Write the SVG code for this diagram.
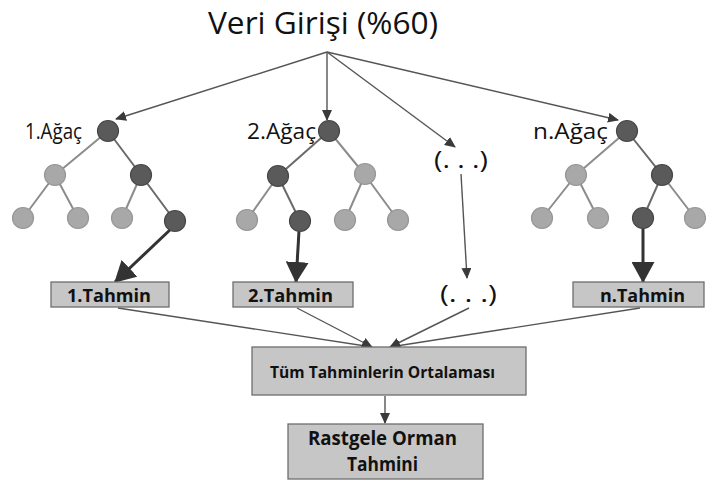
<svg xmlns="http://www.w3.org/2000/svg" width="706" height="481" viewBox="0 0 706 481">
<style>
.t{font-family:"Open Sans","Noto Sans","DejaVu Sans",sans-serif;fill:#111}
.b{font-weight:bold}
.dk{fill:#5a5a5a;stroke:#474747;stroke-width:1.2}
.lt{fill:#a8a8a8;stroke:#969696;stroke-width:1.2}
.e{stroke:#8c8c8c;stroke-width:2;fill:none}
.ed{stroke:#6a6a6a;stroke-width:2;fill:none}
.box{fill:#c6c6c6;stroke:#6e6e6e;stroke-width:1.3}
.c{stroke:#555;stroke-width:1.4;fill:none}
.k{stroke:#333;stroke-width:3;fill:none}
</style>
<defs>
<marker id="a" markerUnits="userSpaceOnUse" markerWidth="11" markerHeight="10" refX="10" refY="5" orient="auto"><path d="M0,0 L11,5 L0,10 z" fill="#3a3a3a"/></marker>
<marker id="big" markerUnits="userSpaceOnUse" markerWidth="21" markerHeight="23" refX="20" refY="11.5" orient="auto"><path d="M0,0 L21,11.5 L0,23 z" fill="#333"/></marker>
</defs>
<rect width="706" height="481" fill="#fff"/>
<text class="t" x="208" y="34" font-size="31" textLength="230" lengthAdjust="spacingAndGlyphs">Veri Girişi (%60)</text>
<g id="connectors">
<line class="c" x1="327" y1="52" x2="116" y2="119" marker-end="url(#a)"/>
<line class="c" x1="327" y1="52" x2="327" y2="120" marker-end="url(#a)"/>
<line class="c" x1="327" y1="52" x2="455" y2="147" marker-end="url(#a)"/>
<line class="c" x1="327" y1="52" x2="618" y2="120" marker-end="url(#a)"/>
<line class="c" x1="461" y1="174" x2="467" y2="278" marker-end="url(#a)"/>
<line class="k" x1="172" y1="228" x2="115" y2="282" marker-end="url(#big)"/>
<line class="k" x1="299" y1="231" x2="296" y2="282" marker-end="url(#big)"/>
<line class="k" x1="643" y1="228" x2="643" y2="282" marker-end="url(#big)"/>
<line class="c" x1="118" y1="308" x2="372" y2="347" marker-end="url(#a)"/>
<line class="c" x1="297" y1="308" x2="372" y2="347" marker-end="url(#a)"/>
<line class="c" x1="469" y1="308" x2="390" y2="347" marker-end="url(#a)"/>
<line class="c" x1="640" y1="308" x2="390" y2="347" marker-end="url(#a)"/>
<line class="c" x1="385" y1="396" x2="385" y2="423" marker-end="url(#a)"/>
</g>
<g id="tree1">
<text class="t" x="25" y="139" font-size="21" textLength="57" lengthAdjust="spacingAndGlyphs">1.Ağaç</text>
<path class="e" d="M108,131 L55,175 M55,175 L23,218 M55,175 L78,218 M141,175 L122,218"/>
<path class="ed" d="M108,131 L141,175 L175,221"/>
<circle class="dk" cx="108" cy="131" r="10.5"/>
<circle class="lt" cx="55" cy="175" r="10.5"/>
<circle class="dk" cx="141" cy="175" r="10.5"/>
<circle class="lt" cx="23" cy="218" r="10.5"/>
<circle class="lt" cx="78" cy="218" r="10.5"/>
<circle class="lt" cx="122" cy="218" r="10.5"/>
<circle class="dk" cx="175" cy="221" r="10.5"/>
</g>
<g id="tree2">
<text class="t" x="247" y="139" font-size="21" textLength="69" lengthAdjust="spacingAndGlyphs">2.Ağaç</text>
<path class="e" d="M329,131 L365,175 M278,176 L247,220 M365,175 L345,220 M365,175 L398,220"/>
<path class="ed" d="M329,131 L278,176 L300,221"/>
<circle class="dk" cx="329" cy="131" r="10.5"/>
<circle class="dk" cx="278" cy="176" r="10.5"/>
<circle class="lt" cx="365" cy="174" r="10.5"/>
<circle class="lt" cx="247" cy="220" r="10.5"/>
<circle class="dk" cx="300" cy="221" r="10.5"/>
<circle class="lt" cx="345" cy="220" r="10.5"/>
<circle class="lt" cx="398" cy="220" r="10.5"/>
</g>
<g id="dots1">
<text class="t" x="434" y="168" font-size="23" textLength="54" lengthAdjust="spacingAndGlyphs">(. . .)</text>
</g>
<g id="treen">
<text class="t" x="533" y="139" font-size="21" textLength="75" lengthAdjust="spacingAndGlyphs">n.Ağaç</text>
<path class="e" d="M627,131 L576,175 M576,175 L542,218 M576,175 L598,218 M662,175 L695,218"/>
<path class="ed" d="M627,131 L662,175 L643,218"/>
<circle class="dk" cx="627" cy="131" r="10.5"/>
<circle class="lt" cx="576" cy="175" r="10.5"/>
<circle class="dk" cx="662" cy="175" r="10.5"/>
<circle class="lt" cx="542" cy="218" r="10.5"/>
<circle class="lt" cx="598" cy="218" r="10.5"/>
<circle class="dk" cx="643" cy="218" r="10.5"/>
<circle class="lt" cx="695" cy="218" r="10.5"/>
</g>
<g id="pred1">
<rect class="box" x="51" y="282" width="118" height="25"/>
<text class="t b" x="67" y="302" font-size="18.5" textLength="84" lengthAdjust="spacingAndGlyphs">1.Tahmin</text>
</g>
<g id="pred2">
<rect class="box" x="233" y="282" width="120" height="25"/>
<text class="t b" x="248" y="302" font-size="18.5" textLength="85" lengthAdjust="spacingAndGlyphs">2.Tahmin</text>
</g>
<g id="dots2">
<text class="t" x="440" y="302" font-size="23" textLength="57" lengthAdjust="spacingAndGlyphs">(. . .)</text>
</g>
<g id="predn">
<rect class="box" x="573" y="282" width="131" height="25"/>
<text class="t b" x="600" y="302" font-size="18.5" textLength="85" lengthAdjust="spacingAndGlyphs">n.Tahmin</text>
</g>
<g id="avg">
<rect class="box" x="252" y="347" width="274" height="48"/>
<text class="t b" x="270" y="378" font-size="16.5" textLength="225" lengthAdjust="spacingAndGlyphs">Tüm Tahminlerin Ortalaması</text>
</g>
<g id="final">
<rect class="box" x="288" y="424" width="195" height="55"/>
<text class="t b" x="308" y="445" font-size="20" textLength="149" lengthAdjust="spacingAndGlyphs">Rastgele Orman</text>
<text class="t b" x="347" y="471" font-size="20" textLength="71" lengthAdjust="spacingAndGlyphs">Tahmini</text>
</g>
</svg>
